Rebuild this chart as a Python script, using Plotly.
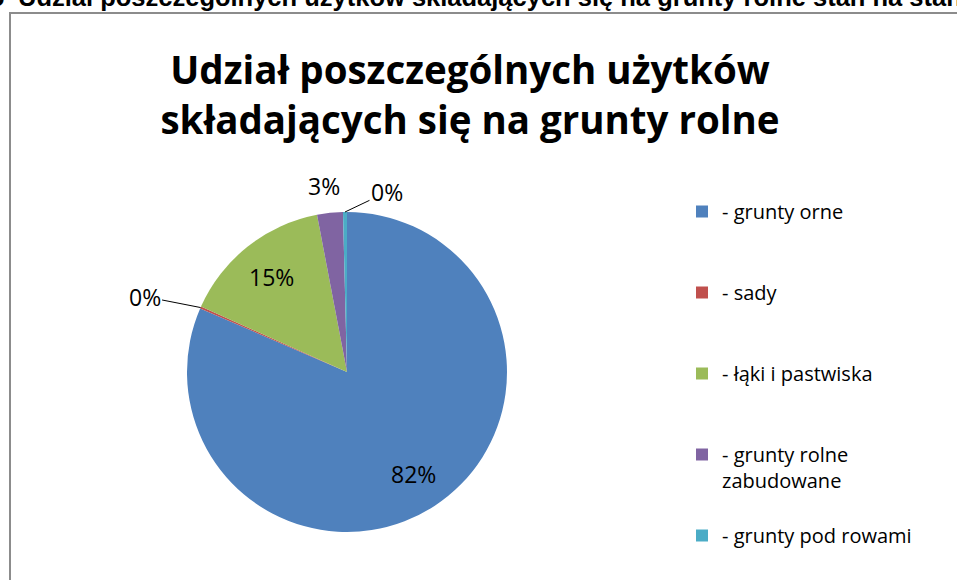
import math

import plotly.graph_objects as go

# data (shares of agricultural land, %)
categories = [
    "- grunty orne",
    "- sady",
    "- łąki i pastwiska",
    "- grunty rolne zabudowane",
    "- grunty pod rowami",
]
legend_labels = [
    "- grunty orne<br> <br> ",
    "- sady<br> <br> ",
    "- łąki i pastwiska<br> <br> ",
    "- grunty rolne<br>zabudowane<br> ",
    "- grunty pod rowami",
]
shares = [81.5, 0.2, 15.3, 2.6, 0.4]
colors = ["#4F81BD", "#C0504D", "#9BBB59", "#8064A2", "#4BACC6"]

title_text = "Udział poszczególnych użytków<br>składających się na grunty rolne"
caption_text = "Udział poszczególnych użytków składających się na grunty rolne stan na stan"

# page geometry (pixels)
W, H = 957, 580
CX, CY, R = 347, 372, 160
FONT = "Open Sans"

fig = go.Figure(
    go.Pie(
        labels=legend_labels,
        values=shares,
        sort=False,
        direction="clockwise",
        rotation=0,
        marker=dict(colors=colors, line=dict(width=0)),
        textinfo="none",
        hovertext=categories,
        hoverinfo="text+percent",
        domain=dict(
            x=[(CX - R) / W, (CX + R) / W],
            y=[1 - (CY + R) / H, 1 - (CY - R) / H],
        ),
    )
)


def slice_point(index, frac=1.0):
    """Paper coords of a point on the mid-line of a slice, frac * radius out."""
    total = sum(shares)
    start = sum(shares[:index])
    mid = (start + shares[index] / 2) / total * 2 * math.pi
    px = CX + frac * R * math.sin(mid)
    py = CY - frac * R * math.cos(mid)
    return px / W, 1 - py / H


def pct(index):
    return f"{round(shares[index] / sum(shares) * 100)}%"


label_font = dict(family=FONT, size=23, color="#000000")

# big slices: labels inside
for idx in (0, 2):
    x, y = slice_point(idx, 0.76)
    fig.add_annotation(
        x=x, y=y, xref="paper", yref="paper",
        text=pct(idx), font=label_font, showarrow=False,
        xanchor="center", yanchor="middle",
    )

# small slices get their labels outside, with leader lines
for idx, ax, ay in [(1, -56, -11), (4, 42, -20)]:
    x, y = slice_point(idx)
    fig.add_annotation(
        x=x, y=y, xref="paper", yref="paper",
        text=pct(idx), font=label_font,
        showarrow=True, arrowhead=0, arrowwidth=1, arrowcolor="#000000",
        ax=ax, ay=ay, standoff=0,
    )

x3, y3 = slice_point(3)
fig.add_annotation(
    x=x3, y=y3, xref="paper", yref="paper",
    text=pct(3), font=label_font, showarrow=False,
    xanchor="center", yanchor="middle", xshift=-6, yshift=27,
)

# cropped caption above the chart frame
cap_font = dict(family="Liberation Sans", size=25.5, color="#000000")
fig.add_annotation(
    x=16 / W, y=1 - 13 / H, xref="paper", yref="paper",
    text=f"<b>{caption_text}</b>", showarrow=False,
    xanchor="left", yanchor="bottom", font=cap_font,
)
fig.add_annotation(
    x=7 / W, y=1 - 13 / H, xref="paper", yref="paper",
    text="<b>o</b>", showarrow=False,
    xanchor="right", yanchor="bottom", font=cap_font,
)

# chart frame
fig.add_shape(
    type="rect", xref="paper", yref="paper",
    x0=10 / W, x1=1.05, y0=-0.05, y1=1 - 13 / H,
    line=dict(color="#8c8c8c", width=2),
)

fig.update_layout(
    width=W,
    height=H,
    margin=dict(l=0, r=0, t=0, b=0, pad=0),
    paper_bgcolor="white",
    plot_bgcolor="white",
    title=dict(
        text=f"<b>{title_text}</b>",
        x=470 / W,
        xanchor="center",
        y=1 - 84 / H,
        yanchor="middle",
        font=dict(family=FONT, size=38.5, color="#000000"),
    ),
    showlegend=True,
    legend=dict(
        x=682 / W,
        xanchor="left",
        y=1 - 192 / H,
        yanchor="top",
        valign="top",
        font=dict(family=FONT, size=20, color="#000000"),
        bgcolor="rgba(0,0,0,0)",
    ),
)

fig.write_html(
    "out.html",
    config={"displayModeBar": False},
    post_script="document.body.style.margin = '0';",
)
